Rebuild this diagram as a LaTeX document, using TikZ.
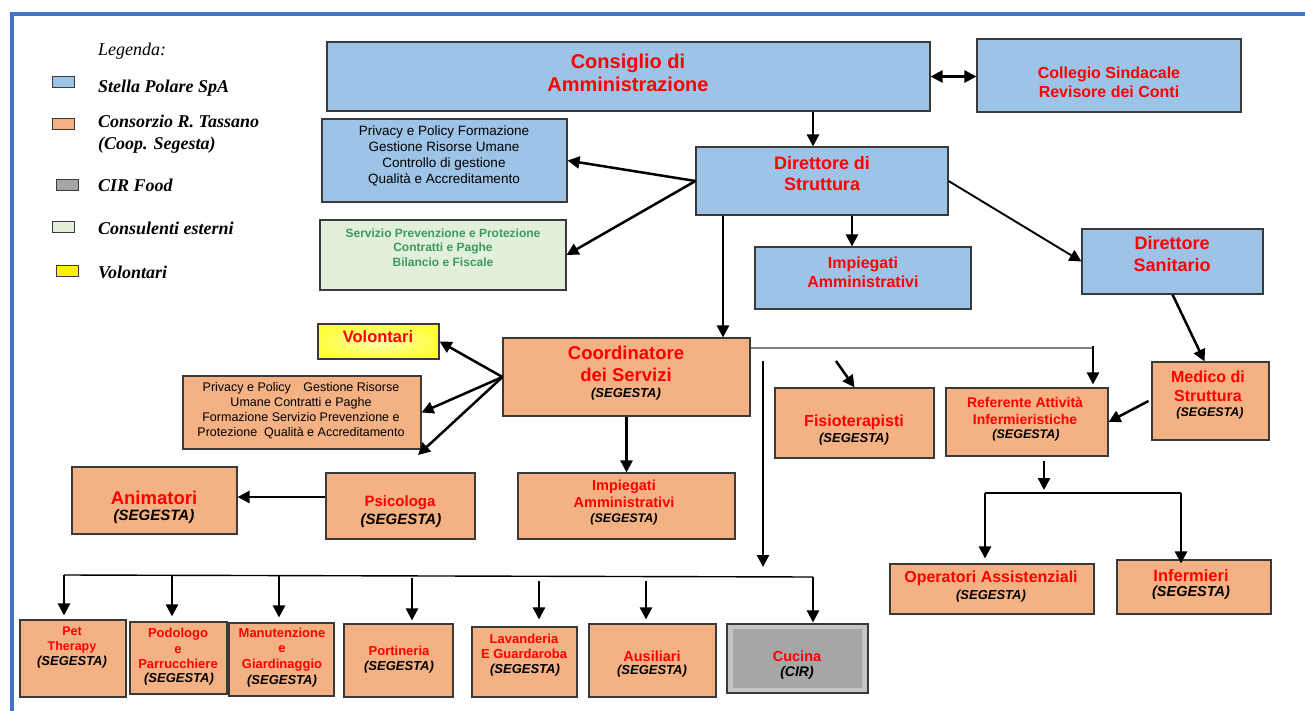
\documentclass[tikz,border=0pt]{standalone}
\usepackage{fontspec}
\setmainfont{Liberation Sans}
\newfontfamily\lgdfont{Liberation Serif}
\usetikzlibrary{arrows.meta}
\definecolor{bluefill}{HTML}{9DC3E6}
\definecolor{orfill}{HTML}{F4B183}
\definecolor{grfill}{HTML}{E2EFDA}
\definecolor{boxline}{HTML}{3A3A3A}
\definecolor{frameblue}{HTML}{4472C4}
\definecolor{greentext}{HTML}{3C9A5F}
\definecolor{redtext}{HTML}{FF0000}
\definecolor{cirgray}{HTML}{A6A6A6}
\definecolor{cirlight}{HTML}{C4C4C4}
\definecolor{volyellow}{HTML}{FFFF80}
\definecolor{volcenter}{HTML}{FFFFB0}
\definecolor{voledge}{HTML}{FFFF40}
\newcommand\fsz[2]{\fontsize{#1}{#2}\selectfont}
\begin{document}
\begin{tikzpicture}[x=1pt,y=-1pt,
  box/.style 2 args={draw=boxline, line width=1.1pt, inner sep=0pt, minimum width=#1pt, minimum height=#2pt},
  ttl/.style={text=redtext, align=center, inner sep=0pt},
  seg/.style={text=black, inner sep=0pt, font=\bfseries\itshape\fsz{#1}{#1}},
  seg/.default=13,
  arr/.style={-{Triangle[length=12pt,width=12pt]}, line width=2.5pt},
  darr/.style={{Triangle[length=12pt,width=12pt]}-{Triangle[length=12pt,width=12pt]}, line width=2.5pt},
  busline/.style={line width=1.4pt},
  greyline/.style={line width=1.3pt, draw=gray},
  swatch/.style={draw=boxline, line width=1pt, minimum width=22pt, minimum height=11pt, inner sep=0pt},
  lgd/.style={anchor=base west, inner sep=0pt, font=\lgdfont\bfseries\itshape\fsz{18}{21}}
]
\useasboundingbox (0,0) rectangle (1305,711);
\fill[white] (0,0) rectangle (1305,711);
% frame
\draw[frameblue, line width=3.5pt] (12,711) -- (12,14) -- (1305,14);

% legend
\node[anchor=base west, inner sep=0pt, font=\lgdfont\itshape\fsz{18}{21}] (lgdT) at (98,56) {Legenda:};
\node[swatch, fill=bluefill] (sw1) at (63,82.5) {};
\node[swatch, fill=orfill] (sw2) at (63,124) {};
\node[swatch, fill=cirgray] (sw3) at (67,185.5) {};
\node[swatch, fill=grfill] (sw4) at (63,227) {};
\node[swatch, fill=yellow] (sw5) at (67,271) {};
\node[lgd] (lg1) at (98,93) {Stella Polare SpA};
\node[lgd] (lg2) at (98,128) {Consorzio R. Tassano};
\node[lgd] (lg2b) at (98,150) {(Coop. Segesta)};
\node[lgd] (lg3) at (98,192) {CIR Food};
\node[lgd] (lg4) at (98,235) {Consulenti esterni};
\node[lgd] (lg5) at (98,278) {Volontari};

% boxes (blue)
\node[box={603}{69}, fill=bluefill] (cda) at (628.5,76.5) {};
\node[ttl, font=\bfseries\fsz{20}{23}] (cdaT) at (628,73) {Consiglio di\\Amministrazione};
\node[box={264}{73}, fill=bluefill] (col) at (1109,75.5) {};
\node[ttl, font=\bfseries\fsz{16}{19.5}] (colT) at (1109,82.5) {Collegio Sindacale\\Revisore dei Conti};
\node[box={245}{83}, fill=bluefill] (priv1) at (444.5,160.5) {};
\node[align=center, inner sep=0pt, font=\fsz{13.5}{16}] (priv1T) at (444,156) {Privacy e Policy Formazione\\Gestione Risorse Umane\\Controllo di gestione\\Qualità e Accreditamento};
\node[box={252}{68}, fill=bluefill] (dir) at (822,181) {};
\node[ttl, font=\bfseries\fsz{18}{21.5}] (dirT) at (822,173.5) {Direttore di\\Struttura};
\node[box={246}{70}, fill=grfill] (serv) at (443,255) {};
\node[align=center, inner sep=0pt, text=greentext, font=\bfseries\fsz{12}{14.5}] (servT) at (443,247.5) {Servizio Prevenzione e Protezione\\Contratti e Paghe\\Bilancio e Fiscale};
\node[box={216}{62}, fill=bluefill] (imp1) at (863,278) {};
\node[ttl, font=\bfseries\fsz{16}{19}] (imp1T) at (863,272.5) {Impiegati\\Amministrativi};
\node[box={181}{65}, fill=bluefill] (dsan) at (1172.5,261.5) {};
\node[ttl, font=\bfseries\fsz{18}{22}] (dsanT) at (1172,254) {Direttore\\Sanitario};

% volontari
\node[box={121}{35}, inner color=volcenter, outer color=voledge] (vol) at (378.5,341.5) {};
\node[ttl, font=\bfseries\fsz{16.5}{19}] (volT) at (378,337) {Volontari};

% orange boxes
\node[box={247}{78}, fill=orfill] (coord) at (626.5,377) {};
\node[ttl, font=\bfseries\fsz{18.5}{22}] (coordT) at (626,364) {Coordinatore\\dei Servizi};
\node[seg] (coordS) at (626,394) {(SEGESTA)};
\node[box={238}{73}, fill=orfill] (priv2) at (302,412.5) {};
\node[align=center, inner sep=0pt, font=\fsz{12.5}{15}] (priv2T) at (301,410.5) {Privacy e Policy\quad Gestione Risorse\\Umane Contratti e Paghe\\Formazione Servizio Prevenzione e\\Protezione\ \ Qualità e Accreditamento};
\node[box={165}{67}, fill=orfill] (anim) at (154.5,500.5) {};
\node[ttl, font=\bfseries\fsz{18.5}{22}] (animT) at (154,498) {Animatori};
\node[seg=15] (animS) at (154,517) {(SEGESTA)};
\node[box={149}{66}, fill=orfill] (psi) at (400.5,506) {};
\node[ttl, font=\bfseries\fsz{15}{18}] (psiT) at (400,503) {Psicologa};
\node[seg=15] (psiS) at (401,521) {(SEGESTA)};
\node[box={217}{66}, fill=orfill] (imp2) at (626.5,506) {};
\node[ttl, font=\bfseries\fsz{14.5}{17}] (imp2T) at (624,493.5) {Impiegati\\Amministrativi};
\node[seg=12.5] (imp2S) at (624,519) {(SEGESTA)};
\node[box={159}{70}, fill=orfill] (fisio) at (854.5,423) {};
\node[ttl, font=\bfseries\fsz{16}{19}] (fisioT) at (854,422) {Fisioterapisti};
\node[seg] (fisioS) at (854,439) {(SEGESTA)};
\node[box={162}{68}, fill=orfill] (ref) at (1027,422) {};
\node[ttl, font=\bfseries\fsz{14}{17}] (refT) at (1025,410.5) {Referente Attività\\Infermieristiche};
\node[seg=12.5] (refS) at (1026,435) {(SEGESTA)};
\node[box={117}{78}, fill=orfill] (med) at (1210.5,401) {};
\node[ttl, font=\bfseries\fsz{16}{19}] (medT) at (1208,386.5) {Medico di\\Struttura};
\node[seg=12.5] (medS) at (1210,413) {(SEGESTA)};
\node[box={204}{50}, fill=orfill] (oper) at (992,589) {};
\node[ttl, font=\bfseries\fsz{16}{19}] (operT) at (991,578) {Operatori Assistenziali};
\node[seg] (operS) at (991,596) {(SEGESTA)};
\node[box={154}{54}, fill=orfill] (inf) at (1194,587) {};
\node[ttl, font=\bfseries\fsz{16.5}{19}] (infT) at (1191,576) {Infermieri};
\node[seg=14.5] (infS) at (1191,593) {(SEGESTA)};

% bottom row
\node[box={106}{77}, fill=orfill] (pet) at (73,658.5) {};
\node[ttl, font=\bfseries\fsz{12.5}{15}] (petT) at (72,639.5) {Pet\\Therapy};
\node[seg] (petS) at (72,662) {(SEGESTA)};
\node[box={97}{72}, fill=orfill] (pod) at (178.5,658) {};
\node[ttl, font=\bfseries\fsz{13}{15.5}] (podT) at (178,648.5) {Podologo\\e\\Parrucchiere};
\node[seg] (podS) at (179,679) {(SEGESTA)};
\node[box={105}{73}, fill=orfill] (man) at (281.5,659.5) {};
\node[ttl, font=\bfseries\fsz{13}{15.5}] (manT) at (282,649.5) {Manutenzione\\e\\Giardinaggio};
\node[seg] (manS) at (282,681) {(SEGESTA)};
\node[box={109}{73}, fill=orfill] (port) at (398.5,660.5) {};
\node[ttl, font=\bfseries\fsz{13}{15.5}] (portT) at (399,651) {Portineria};
\node[seg] (portS) at (399,667) {(SEGESTA)};
\node[box={105}{70}, fill=orfill] (lav) at (524.5,662) {};
\node[ttl, font=\bfseries\fsz{13}{15.5}] (lavT) at (524,646.5) {Lavanderia\\E Guardaroba};
\node[seg] (lavS) at (525,670) {(SEGESTA)};
\node[box={127}{73}, fill=orfill] (aus) at (652.5,660.5) {};
\node[ttl, font=\bfseries\fsz{14.5}{17}] (ausT) at (652,656) {Ausiliari};
\node[seg] (ausS) at (652,671) {(SEGESTA)};
\node[box={141}{69}, fill=cirlight] (cuc) at (797.5,658.5) {};
\node[fill=cirgray, minimum width=129pt, minimum height=59pt, inner sep=0pt] (cucIn) at (797.5,658.5) {};
\node[ttl, font=\bfseries\fsz{14.5}{17}] (cucT) at (797,656) {Cucina};
\node[seg=14] (cucS) at (797,673) {(CIR)};

% connectors
\draw[arr] ([xshift=-9pt]dir.north |- cda.south) -- ([xshift=-9pt]dir.north);
\draw[darr] (cda.east) -- (cda.east -| col.west);
\draw[arr] (dir.west) -- (priv1.east);
\draw[arr] (dir.west) -- (serv.east);
\draw[arr] ([xshift=-99pt]dir.south) -- ([xshift=-99pt]dir.south |- coord.north);
\draw[arr] ([xshift=30pt]dir.south) -- ([xshift=30pt]dir.south |- imp1.north);
\draw[arr, line width=1.9pt] (dir.east) -- (dsan.west);
\draw[arr] (dsan.south) -- ([xshift=-6pt]med.north);
\draw[arr] ([xshift=-3pt]med.west) -- (ref.east);
\coordinate (gEnd) at (1093,348);
\draw[greyline] ([yshift=29pt]coord.east) -- (gEnd);
\draw[arr] ([yshift=2pt]gEnd) -- ([yshift=3pt]gEnd |- ref.north);
\coordinate (fS) at (836,361);
\draw[arr] (fS) -- (fisio.north);
\coordinate (vS) at (763,361);
\coordinate (vE) at (763,567);
\draw[arr] (vS) -- (vE);
\draw[arr] (coord.west) -- (vol.east);
\draw[arr] (coord.west) -- (priv2.east);
\coordinate (pE) at (418,455);
\draw[arr] (coord.west) -- (pE);
\draw[arr] (coord.south) -- (imp2.north);
\draw[arr] ([yshift=9pt]psi.west) -- ([yshift=9pt]psi.west -| anim.east);

% bottom bus
\coordinate (bL) at (64,575);
\coordinate (bR) at (813,577);
\draw[busline] (bL) -- (bR);
\draw[arr] (bL) -- ([yshift=4pt]bL |- pet.north);
\coordinate (b2) at (172,575);
\draw[arr] (b2) -- ([yshift=5pt]b2 |- pod.north);
\coordinate (b3) at (279,575);
\draw[arr] (b3) -- ([yshift=5pt]b3 |- man.north);
\coordinate (b4) at (412,578);
\draw[arr] (b4) -- ([yshift=3pt]b4 |- port.north);
\coordinate (b5) at (539,581);
\draw[arr] (b5) -- ([yshift=7pt]b5 |- lav.north);
\coordinate (b6) at (646,581);
\draw[arr] (b6) -- ([yshift=4pt]b6 |- aus.north);
\draw[arr] (bR) -- ([yshift=1pt]bR |- cuc.north);

% right bus
\coordinate (rS) at (1044,461);
\coordinate (rE) at (1044,490);
\draw[arr] (rS) -- (rE);
\coordinate (rL) at (985,493);
\coordinate (rR) at (1181,493);
\draw[busline] (rL) -- (rR);
\draw[arr] (rL) -- ([yshift=5pt]rL |- oper.north);
\draw[arr] (rR) -- ([yshift=-4pt]rR |- inf.north);
\end{tikzpicture}
\end{document}
